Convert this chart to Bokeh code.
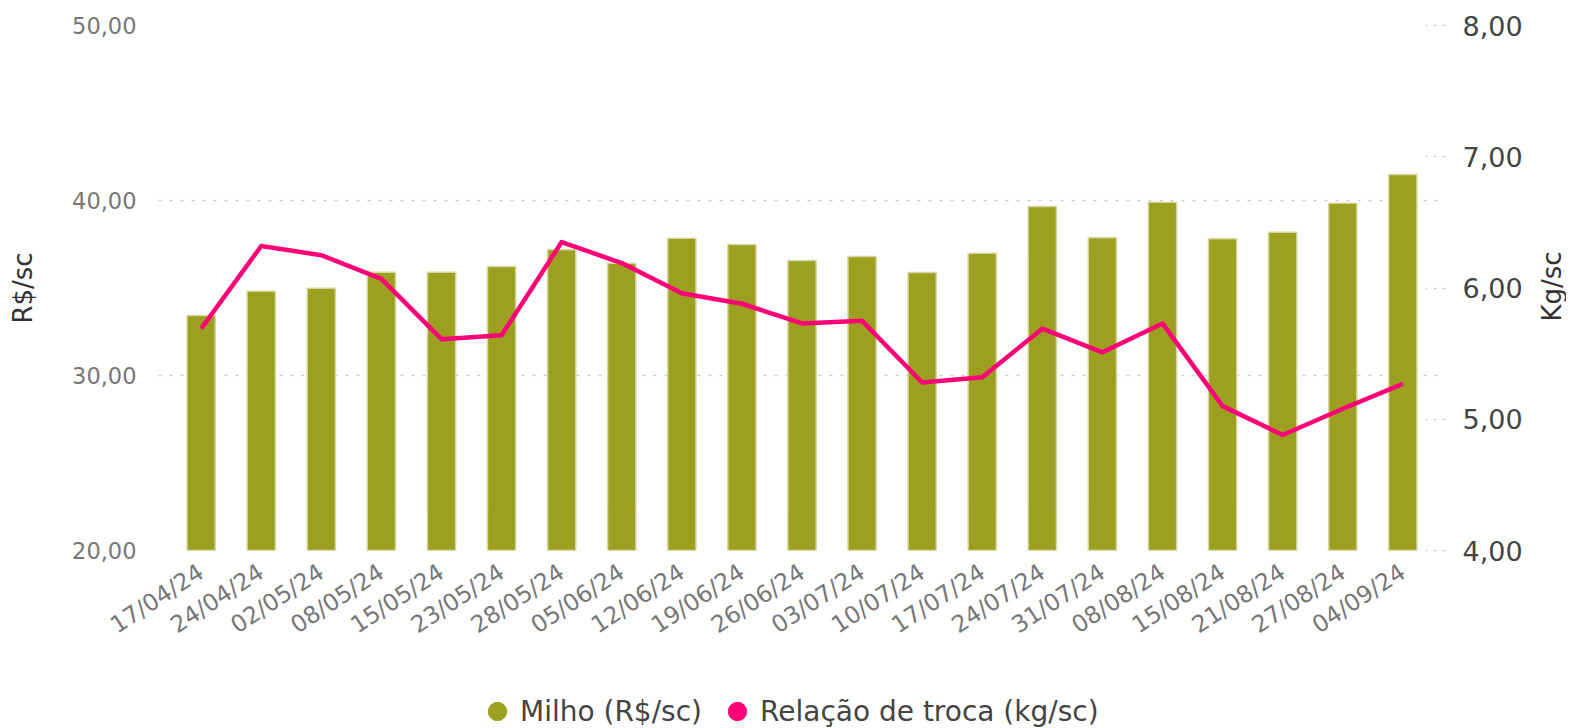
import math
from bokeh.plotting import figure
from bokeh.layouts import column, row
from bokeh.models import (ColumnDataSource, FactorRange, Range1d, LinearAxis, FixedTicker,
                          Legend, LegendItem, Label)
from bokeh.embed import file_html
from bokeh.resources import INLINE

dates = ["17/04/24", "24/04/24", "02/05/24", "08/05/24", "15/05/24", "23/05/24", "28/05/24",
         "05/06/24", "12/06/24", "19/06/24", "26/06/24", "03/07/24", "10/07/24", "17/07/24",
         "24/07/24", "31/07/24", "08/08/24", "15/08/24", "21/08/24", "27/08/24", "04/09/24"]
milho = [33.43, 34.82, 34.99, 35.90, 35.90, 36.23, 37.18, 36.42, 37.85, 37.49, 36.57,
         36.80, 35.89, 36.99, 39.66, 37.87, 39.90, 37.81, 38.19, 39.85, 41.49]
relacao = [5.69, 6.32, 6.25, 6.07, 5.61, 5.64, 6.35, 6.19, 5.96, 5.88, 5.73,
           5.75, 5.28, 5.32, 5.69, 5.51, 5.73, 5.10, 4.88, 5.08, 5.27]
left_ticks = [20, 30, 40, 50]
right_ticks = [4, 5, 6, 7, 8]
label_milho = "Milho (R$/sc)"
label_rel = "Relação de troca (kg/sc)"
title_left = "R$/sc"
title_right = "Kg/sc"

FONT = "DejaVu Sans"
OLIVE = "#9d9f20"
PINK = "#ff0077"

MAIN_W, MAIN_H, AUX_W, LEG_H = 1536, 682, 30, 45

src = ColumnDataSource(dict(d=dates, milho=milho, rel=relacao))

p = figure(width=MAIN_W, height=MAIN_H, x_range=FactorRange(factors=dates, range_padding=0.02),
           y_range=Range1d(20, 50), output_backend="svg", toolbar_location=None,
           min_border_left=158, min_border_right=91, min_border_top=25, min_border_bottom=132)
p.outline_line_color = None
p.extra_y_ranges = {"right": Range1d(4, 8)}

p.vbar(x="d", top="milho", bottom=20, width=0.47, source=src, fill_color=OLIVE,
       line_color="#d6d6a0", line_width=1.5)
p.line(x="d", y="rel", source=src, y_range_name="right", line_color=PINK, line_width=4.5,
       line_join="round")

# left axis
ya = p.yaxis[0]
ya.ticker = FixedTicker(ticks=left_ticks)
ya.major_label_overrides = {t: f"{t:.2f}".replace(".", ",") for t in left_ticks}
ya.axis_line_color = None
ya.major_tick_line_color = None
ya.minor_tick_line_color = None
ya.major_label_standoff = 16
ya.major_label_text_font = FONT
ya.major_label_text_font_size = "22.5px"
ya.major_label_text_color = "#777777"
ya.axis_label = title_left
ya.axis_label_text_font = FONT
ya.axis_label_text_font_size = "26px"
ya.axis_label_text_font_style = "normal"
ya.axis_label_text_color = "#333333"
ya.axis_label_standoff = 31

# right axis
ra = LinearAxis(y_range_name="right", ticker=FixedTicker(ticks=right_ticks))
ra.major_label_overrides = {t: f"{t:.2f}".replace(".", ",") for t in right_ticks}
ra.axis_line_color = None
ra.minor_tick_line_color = None
ra.major_tick_in = 20
ra.major_tick_out = 0
ra.major_tick_line_color = "#cfcfcf"
ra.major_tick_line_dash = "3 6"
ra.major_tick_line_width = 1.5
ra.major_label_standoff = 17
ra.major_label_text_font = FONT
ra.major_label_text_font_size = "27px"
ra.major_label_text_color = "#444444"
p.add_layout(ra, "right")

# x axis
xa = p.xaxis[0]
xa.axis_line_color = None
xa.major_tick_line_color = None
xa.minor_tick_line_color = None
xa.major_label_orientation = 0.58
xa.major_label_standoff = 13
xa.major_label_text_font = FONT
xa.major_label_text_font_size = "23.5px"
xa.major_label_text_color = "#777777"

# grid
p.xgrid.grid_line_color = None
p.ygrid.ticker = FixedTicker(ticks=left_ticks)
p.ygrid.grid_line_color = "#cccccc"
p.ygrid.grid_line_dash = "3 8"
p.ygrid.grid_line_width = 1.5

# narrow strip on the right carrying the right axis title (reads bottom-to-top)
aux = figure(width=AUX_W, height=MAIN_H, output_backend="svg", toolbar_location=None,
             x_axis_location=None, y_axis_location=None, min_border=0)
aux.outline_line_color = None
aux.grid.visible = False
aux.add_layout(Label(x=AUX_W / 2, y=264, x_units="screen", y_units="screen",
                     text=title_right, angle=math.pi / 2, text_align="center",
                     text_baseline="middle", text_font=FONT, text_font_size="26px",
                     text_color="#333333"))

# legend strip below
leg = figure(width=MAIN_W + AUX_W, height=LEG_H, output_backend="svg", toolbar_location=None,
             x_axis_location=None, y_axis_location=None, min_border=0)
leg.outline_line_color = None
leg.grid.visible = False
dummy = ColumnDataSource(dict(x=[0], y=[float("nan")]))
r1 = leg.scatter(x="x", y="y", source=dummy, marker="circle", fill_color=OLIVE, line_color=OLIVE)
r2 = leg.scatter(x="x", y="y", source=dummy, marker="circle", fill_color=PINK, line_color=PINK)
legend = Legend(items=[LegendItem(label=label_milho, renderers=[r1]),
                       LegendItem(label=label_rel, renderers=[r2])],
                orientation="horizontal", location=(474, -7),
                glyph_width=46, glyph_height=46, label_standoff=-10, spacing=12,
                label_text_font=FONT, label_text_font_size="28px", label_text_color="#444444",
                border_line_color=None, background_fill_alpha=0, padding=0, margin=0)
leg.add_layout(legend)

layout = column(row(p, aux, spacing=0), leg, spacing=0)
open("out.html", "w").write(file_html(layout, INLINE))
